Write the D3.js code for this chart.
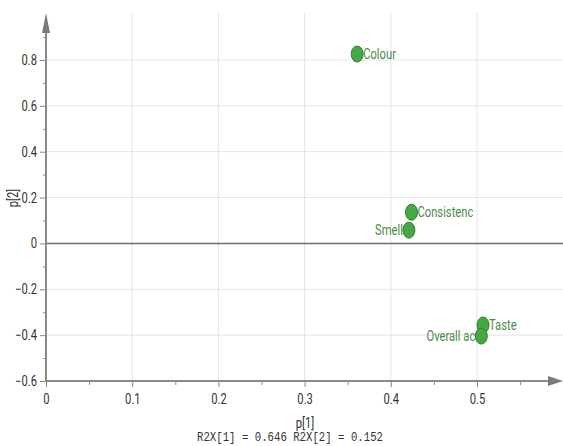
<!DOCTYPE html>
<html><head><meta charset="utf-8">
<script src="https://cdn.jsdelivr.net/npm/d3@7"></script>
<style>body{margin:0;background:#fff}svg{display:block}</style>
</head><body><svg id="c" width="563" height="446"></svg>
<script>
const names = ["Colour","Consistenc","Smell","Taste","Overall ac"];
const p1 = [0.361,0.424,0.421,0.507,0.505];
const p2 = [0.826,0.136,0.058,-0.356,-0.404];
const labelSide = ["right","right","left","right","left"];
const xTicks = [0,0.1,0.2,0.3,0.4,0.5];
const xMinor = [0.05,0.15,0.25,0.35,0.45,0.55];
const yTicks = [-0.6,-0.4,-0.2,0,0.2,0.4,0.6,0.8];
const yMinor = [-0.5,-0.3,-0.1,0.1,0.3,0.5,0.7,0.9];
const xTitle = "p[1]", yTitle = "p[2]", subTitle = "R2X[1] = 0.646 R2X[2] = 0.152";

const svg = d3.select("#c");
const x = d3.scaleLinear().domain([0,0.5]).range([46,477]);
const y = d3.scaleLinear().domain([-0.6,0.8]).range([381,60]);
const font = "Roboto,'Liberation Sans',sans-serif";
const X0 = x(0), Y0 = y(-0.6), XR = 563, YT = 13;
function condense(sel, f){
  sel.each(function(){
    const w = this.getComputedTextLength();
    if (w>0) d3.select(this).attr("textLength", w*f).attr("lengthAdjust","spacingAndGlyphs");
  });
}

// grid
svg.append("g").selectAll("line").data(xTicks.filter(d=>d>0)).join("line")
  .attr("x1",d=>x(d)).attr("x2",d=>x(d)).attr("y1",YT).attr("y2",Y0)
  .attr("stroke","#e4e4e4").attr("stroke-width",1);
svg.append("g").selectAll("line").data(yTicks.filter(d=>d!==0 && d!==-0.6)).join("line")
  .attr("x1",X0).attr("x2",XR).attr("y1",d=>y(d)).attr("y2",d=>y(d))
  .attr("stroke","#e4e4e4").attr("stroke-width",1);
// zero line
svg.append("line").attr("x1",X0).attr("x2",XR).attr("y1",y(0)).attr("y2",y(0))
  .attr("stroke","#6e6e6e").attr("stroke-width",1.5);

// axes
const axisCol = "#8a8a8a";
svg.append("line").attr("x1",X0).attr("x2",550).attr("y1",Y0).attr("y2",Y0).attr("stroke",axisCol).attr("stroke-width",2);
svg.append("path").attr("d",`M548,${Y0-5}L563,${Y0}L548,${Y0+5}Z`).attr("fill","#7a7a7a");
svg.append("line").attr("x1",X0).attr("x2",X0).attr("y1",Y0+1).attr("y2",30).attr("stroke",axisCol).attr("stroke-width",2);
svg.append("path").attr("d",`M${X0-4},33L${X0},13L${X0+4},33Z`).attr("fill","#7a7a7a");

// x ticks
const xa = svg.append("g").attr("transform",`translate(0,${Y0})`)
  .call(d3.axisBottom(x).tickValues(xTicks).tickSize(6).tickFormat(d=>d===0?"0":d3.format(".1f")(d)));
xa.select(".domain").remove();
xa.selectAll("line").attr("stroke",axisCol);
xa.selectAll("text").attr("font-family",font).attr("font-size",14).attr("fill","#333").attr("dy","1.0em");
const xm = svg.append("g").attr("transform",`translate(0,${Y0})`)
  .call(d3.axisBottom(x).tickValues(xMinor).tickSize(4).tickFormat(""));
xm.select(".domain").remove(); xm.selectAll("line").attr("stroke",axisCol);

// y ticks
const ya = svg.append("g").attr("transform",`translate(${X0},0)`)
  .call(d3.axisLeft(y).tickValues(yTicks).tickSize(6).tickPadding(3).tickFormat(d=>d===0?"0":d3.format(".1f")(d)));
ya.select(".domain").remove();
ya.selectAll("line").attr("stroke",axisCol);
ya.selectAll("text").attr("font-family",font).attr("font-size",14).attr("fill","#333");
const ym = svg.append("g").attr("transform",`translate(${X0},0)`)
  .call(d3.axisLeft(y).tickValues(yMinor).tickSize(3).tickFormat(""));
ym.select(".domain").remove(); ym.selectAll("line").attr("stroke",axisCol);
condense(xa.selectAll("text"),0.8);
condense(ya.selectAll("text"),0.8);

// titles
const t1 = svg.append("text").attr("x",305).attr("y",428).attr("text-anchor","middle")
  .attr("font-family",font).attr("font-size",14).attr("fill","#333").text(xTitle);
const t2 = svg.append("text").attr("x",290).attr("y",441).attr("text-anchor","middle")
  .attr("font-family","'Liberation Mono','DejaVu Sans Mono',monospace").attr("font-size",12).attr("fill","#333").text(subTitle);
t2.attr("textLength",186).attr("lengthAdjust","spacingAndGlyphs");
const t3 = svg.append("text").attr("transform",`translate(18,198) rotate(-90)`).attr("text-anchor","middle")
  .attr("font-family",font).attr("font-size",14).attr("fill","#333").text(yTitle);
condense(t1,0.8); condense(t3,0.8);

// points
const data = names.map((n,i)=>({n, a:p1[i], b:p2[i], s:labelSide[i]}));
const g = svg.append("g");
g.selectAll("ellipse").data(data).join("ellipse")
  .attr("cx",d=>x(d.a)).attr("cy",d=>y(d.b)).attr("rx",6).attr("ry",8)
  .attr("fill","#45a845").attr("stroke","#2f7f2f").attr("stroke-width",1);
const lab = g.selectAll("text").data(data).join("text")
  .attr("x",d=>x(d.a)+(d.s==="right"?6:-6)).attr("y",d=>y(d.b)+5)
  .attr("text-anchor",d=>d.s==="right"?"start":"end")
  .attr("font-family",font).attr("font-size",14).attr("fill","#4d8a4d").text(d=>d.n);
condense(lab,0.8);
</script></body></html>
